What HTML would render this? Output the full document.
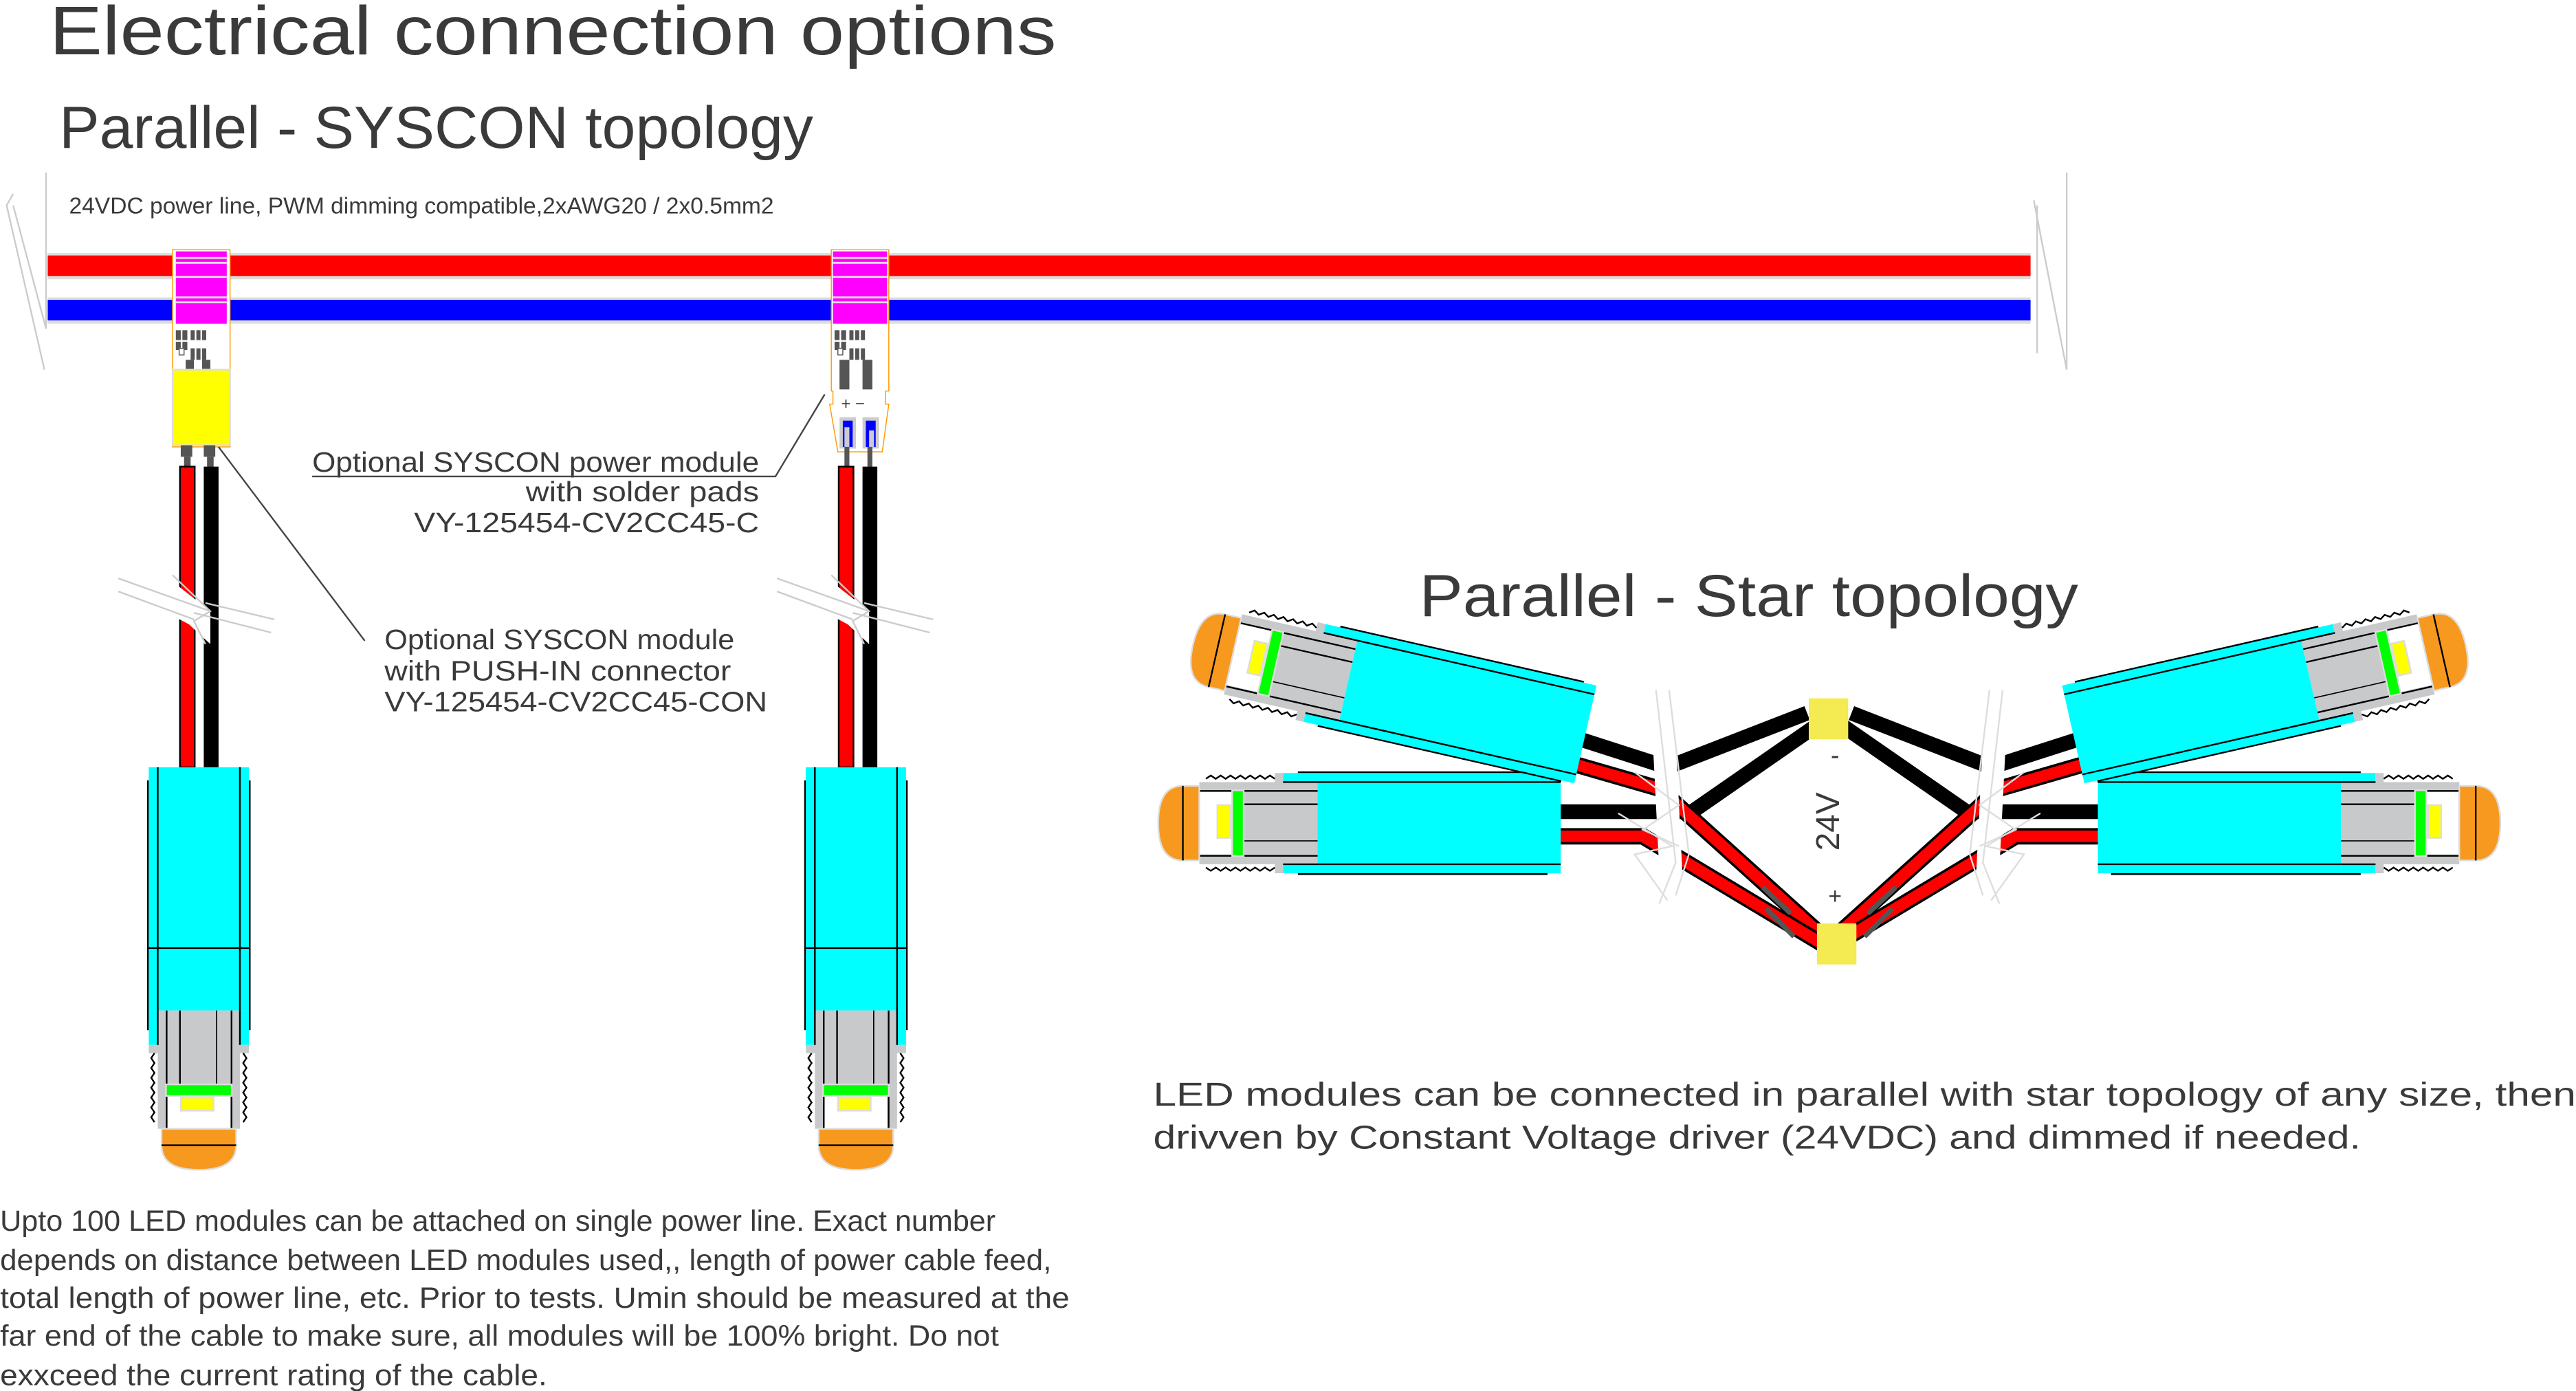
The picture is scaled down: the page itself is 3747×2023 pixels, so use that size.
<!DOCTYPE html>
<html><head><meta charset="utf-8"><style>
html,body{margin:0;padding:0;background:#fff;width:3747px;height:2023px;overflow:hidden}
svg{display:block}
text{font-family:"Liberation Sans",sans-serif;fill:#3a3a3a}
</style></head><body>
<svg width="3747" height="2023" viewBox="0 0 1568 846.6" xmlns="http://www.w3.org/2000/svg">
<defs>
<g id="mb">
 <rect x="-30.5" y="0" width="61" height="148" fill="#00ffff"/>
 <rect x="-30.5" y="148" width="5.5" height="21" fill="#00ffff"/>
 <rect x="25" y="148" width="5.5" height="21" fill="#00ffff"/>
 <rect x="-25" y="148" width="50" height="72" fill="#c8c9cb"/>
 <rect x="-30.5" y="169" width="61" height="5" fill="#c8c9cb"/>
 <line x1="-25" y1="0" x2="-25" y2="169" stroke="#000" stroke-width="1"/>
 <line x1="25" y1="0" x2="25" y2="169" stroke="#000" stroke-width="1"/>
 <line x1="-31" y1="8" x2="-31" y2="160" stroke="#000" stroke-width="1"/>
 <line x1="31" y1="8" x2="31" y2="160" stroke="#000" stroke-width="1"/>
 <line x1="-19.6" y1="148" x2="-19.6" y2="220" stroke="#000" stroke-width="1"/>
 <line x1="-11.5" y1="148" x2="-11.5" y2="194" stroke="#000" stroke-width="1"/>
 <line x1="10.8" y1="148" x2="10.8" y2="194" stroke="#000" stroke-width="0.7"/>
 <line x1="19.9" y1="148" x2="19.9" y2="220" stroke="#000" stroke-width="1"/>
 <polyline points="-27,174 -29,177 -27,180 -29,183 -27,186 -29,189 -27,192 -29,195 -27,198 -29,201 -27,204 -29,207 -27,210 -29,213 -27,216" fill="none" stroke="#000" stroke-width="1"/>
 <polyline points="27,174 29,177 27,180 29,183 27,186 29,189 27,192 29,195 27,198 29,201 27,204 29,207 27,210 29,213 27,216" fill="none" stroke="#000" stroke-width="1"/>
 <rect x="-19" y="200" width="38" height="20" fill="#fff"/>
 <rect x="-20" y="193" width="40" height="7" fill="#00ff00" stroke="#ddd" stroke-width="1"/>
 <rect x="-11" y="201" width="20" height="8" fill="#ffff00" stroke="#ddd" stroke-width="1"/>
 <path d="M-22.7,220 H22.7 V230 Q22.7,245 0,245 Q-22.7,245 -22.7,230 Z" fill="#f7991f" stroke="#ddd" stroke-width="1"/>
 <line x1="-22.7" y1="230" x2="22.7" y2="230" stroke="#000" stroke-width="1"/>
</g>
<g id="m">
 <use href="#mb"/>
 <line x1="-30.5" y1="110" x2="30.5" y2="110" stroke="#000" stroke-width="1"/>
</g>
<g id="chips">
 <rect x="2" y="201" width="3" height="6" fill="#555"/><rect x="6" y="201" width="3" height="6" fill="#555"/>
 <rect x="2" y="208" width="3" height="5" fill="#555"/><rect x="6" y="208" width="3" height="5" fill="#555"/>
 <rect x="11" y="201" width="2.5" height="6" fill="#555"/><rect x="14.5" y="201" width="2.5" height="6" fill="#555"/><rect x="18" y="201" width="2.5" height="6" fill="#555"/>
 <rect x="4" y="212" width="3" height="4" fill="#fff" stroke="#555" stroke-width="0.6"/>
 <rect x="11" y="212" width="2.5" height="7" fill="#555"/><rect x="14.5" y="212" width="2.5" height="7" fill="#555"/><rect x="18" y="212" width="2.5" height="7" fill="#555"/>
</g>
</defs>

<text x="30" y="33" font-size="42" textLength="613" lengthAdjust="spacingAndGlyphs">Electrical connection options</text>
<text x="36" y="90" font-size="36" textLength="459" lengthAdjust="spacingAndGlyphs">Parallel - SYSCON topology</text>
<text x="864" y="375" font-size="36" textLength="401" lengthAdjust="spacingAndGlyphs">Parallel - Star topology</text>
<text x="42" y="130" font-size="14" textLength="429" lengthAdjust="spacingAndGlyphs">24VDC power line, PWM dimming compatible,2xAWG20 / 2x0.5mm2</text>

<rect x="29" y="154" width="1207" height="16" fill="#ddd"/>
<rect x="29" y="155.5" width="1207" height="12.5" fill="#ff0000"/>
<rect x="29" y="181" width="1207" height="16" fill="#ddd"/>
<rect x="29" y="182.5" width="1207" height="12.5" fill="#0000ff"/>
<polyline points="8,118 4,125 27,225" fill="none" stroke="#ccc" stroke-width="1"/>
<polyline points="28,105 28,200 8,125" fill="none" stroke="#ccc" stroke-width="1"/>
<polyline points="1238,122 1258,225 1258,105" fill="none" stroke="#ccc" stroke-width="1"/>
<polyline points="1240,125 1240,215" fill="none" stroke="#ccc" stroke-width="1"/>

<rect x="105" y="152" width="35" height="120" fill="#fff" stroke="#f90" stroke-width="0.6"/>
<rect x="107" y="153" width="31" height="44" fill="#ff00ff"/>
<g stroke="#ddd" stroke-width="1.2"><line x1="107" y1="157" x2="138" y2="157"/><line x1="107" y1="160" x2="138" y2="160"/><line x1="107" y1="181" x2="138" y2="181"/><line x1="107" y1="184" x2="138" y2="184"/><line x1="107" y1="168.5" x2="138" y2="168.5"/></g>
<use href="#chips" x="105" y="0"/>
<rect x="113" y="219" width="5" height="6" fill="#555"/><rect x="123" y="219" width="5" height="6" fill="#555"/>
<rect x="105" y="225" width="35" height="46" fill="#ffff00" stroke="#ddd" stroke-width="1"/>
<rect x="110" y="271" width="7" height="7" fill="#555"/><rect x="124" y="271" width="7" height="7" fill="#555"/>
<rect x="112" y="278" width="4" height="7" fill="#555"/><rect x="126" y="278" width="4" height="7" fill="#555"/>
<rect x="109.5" y="284" width="9" height="183" fill="#ff0000" stroke="#000" stroke-width="1"/>
<rect x="124" y="284" width="9" height="183" fill="#000"/>
<polygon points="100,350 128,372 128,392 115,380 100,372" fill="#fff"/>
<g stroke="#ccc" stroke-width="1" fill="none"><line x1="72" y1="352" x2="128" y2="372"/><line x1="72" y1="360" x2="118" y2="377"/><polyline points="105,350 128,372 118,378 125,392"/><line x1="118" y1="373" x2="165" y2="385"/><line x1="125" y1="367" x2="167" y2="377"/></g>
<use href="#m" transform="translate(121,467)"/>

<path d="M506,152 H541 V238 H539 V246 H541 L537,275 H510 L505,246 H507 V238 H506 Z" fill="#fff" stroke="#f90" stroke-width="0.6"/>
<rect x="507" y="153" width="33" height="44" fill="#ff00ff"/>
<g stroke="#ddd" stroke-width="1.2"><line x1="507" y1="157" x2="540" y2="157"/><line x1="507" y1="160" x2="540" y2="160"/><line x1="507" y1="181" x2="540" y2="181"/><line x1="507" y1="184" x2="540" y2="184"/><line x1="507" y1="168.5" x2="540" y2="168.5"/></g>
<use href="#chips" x="506" y="0"/>
<rect x="511" y="219" width="6" height="18" fill="#555"/><rect x="525" y="219" width="6" height="18" fill="#555"/>
<text x="512" y="249" font-size="10" fill="#000">+ −</text>
<rect x="511" y="254" width="10" height="19" fill="#ccc"/><rect x="525" y="254" width="10" height="19" fill="#ccc"/>
<rect x="513" y="256" width="6" height="16" fill="#0000ff"/><rect x="527" y="256" width="6" height="16" fill="#0000ff"/>
<rect x="514" y="260" width="3" height="12" fill="#ccc"/><rect x="529" y="262" width="3" height="10" fill="#ccc"/>
<rect x="514" y="272" width="3" height="13" fill="#555"/><rect x="528" y="272" width="3" height="13" fill="#555"/>
<rect x="510.5" y="284" width="9" height="183" fill="#ff0000" stroke="#000" stroke-width="1"/>
<rect x="525" y="284" width="9" height="183" fill="#000"/>
<polygon points="501,350 529,372 529,392 516,380 501,372" fill="#fff"/>
<g stroke="#ccc" stroke-width="1" fill="none"><line x1="473" y1="352" x2="529" y2="372"/><line x1="473" y1="360" x2="519" y2="377"/><polyline points="506,350 529,372 519,378 526,392"/><line x1="519" y1="373" x2="566" y2="385"/><line x1="526" y1="367" x2="568" y2="377"/></g>
<use href="#m" transform="translate(521,467)"/>

<text x="190" y="287" font-size="17" textLength="272" lengthAdjust="spacingAndGlyphs">Optional SYSCON power module</text>
<polyline points="190,290 472,290 502,240" fill="none" stroke="#444" stroke-width="1"/>
<text x="320" y="305" font-size="17" textLength="142" lengthAdjust="spacingAndGlyphs">with solder pads</text>
<text x="252" y="324" font-size="17" textLength="210" lengthAdjust="spacingAndGlyphs">VY-125454-CV2CC45-C</text>
<text x="234" y="395" font-size="17" textLength="213" lengthAdjust="spacingAndGlyphs">Optional SYSCON module</text>
<text x="234" y="414" font-size="17" textLength="211" lengthAdjust="spacingAndGlyphs">with PUSH-IN connector</text>
<text x="234" y="433" font-size="17" textLength="233" lengthAdjust="spacingAndGlyphs">VY-125454-CV2CC45-CON</text>
<line x1="222" y1="390" x2="133" y2="272" stroke="#444" stroke-width="1"/>

<g font-size="18">
<text x="0" y="749" textLength="606" lengthAdjust="spacingAndGlyphs">Upto 100 LED modules can be attached on single power line. Exact number</text>
<text x="0" y="773" textLength="640" lengthAdjust="spacingAndGlyphs">depends on distance between LED modules used,, length of power cable feed,</text>
<text x="0" y="796" textLength="651" lengthAdjust="spacingAndGlyphs">total length of power line, etc. Prior to tests. Umin should be measured at the</text>
<text x="0" y="819" textLength="608" lengthAdjust="spacingAndGlyphs">far end of the cable to make sure, all modules will be 100% bright. Do not</text>
<text x="0" y="843" textLength="333" lengthAdjust="spacingAndGlyphs">exxceed the current rating of the cable.</text>
</g>

<g id="half">
 <g stroke-linejoin="miter" fill="none">
  <polyline points="962,450 1015,467 1100,434" stroke="#000" stroke-width="9"/>
  <polyline points="950,494 1030,494 1105,442" stroke="#000" stroke-width="9"/>
  <polyline points="958,465 1010,480 1112,572" stroke="#000" stroke-width="10"/>
  <polyline points="958,465 1010,480 1112,572" stroke="#ff0000" stroke-width="7"/>
  <polyline points="950,509 1000,509 1110,575" stroke="#000" stroke-width="10"/>
  <polyline points="950,509 1000,509 1110,575" stroke="#ff0000" stroke-width="7"/>
  <line x1="1073" y1="540" x2="1090" y2="556" stroke="#555" stroke-width="3"/>
  <line x1="1075" y1="553" x2="1092" y2="570" stroke="#555" stroke-width="3"/>
 </g>
 <polygon points="1006,450 1020,450 1024,530 1010,530" fill="#fff"/>
 <g stroke="#ddd" stroke-width="1" fill="none">
  <polyline points="1008,420 1020,525 1010,550"/>
  <polyline points="1016,420 1028,520 1020,545"/>
  <polyline points="995,470 1022,490 1000,505 1022,515"/>
  <polyline points="985,495 1018,515 995,520 1015,548"/>
 </g>
 <use href="#mb" transform="translate(950,501) rotate(90)"/>
 <use href="#mb" transform="translate(965,447) rotate(102.8)"/>
</g>
<use href="#half" transform="translate(2227,0) scale(-1,1)"/>
<rect x="1101" y="425" width="24" height="25" fill="#f4ea52"/>
<rect x="1106" y="562" width="24" height="25" fill="#f4ea52"/>
<text x="1113" y="500" font-size="20" text-anchor="middle" transform="rotate(-90 1113 500)" dominant-baseline="central" fill="#555">24V</text>
<text x="1117" y="465" font-size="16" text-anchor="middle" fill="#555">-</text>
<text x="1117" y="550" font-size="14" text-anchor="middle" fill="#555">+</text>

<g font-size="20">
<text x="702" y="673" textLength="866" lengthAdjust="spacingAndGlyphs">LED modules can be connected in parallel with star topology of any size, then</text>
<text x="702" y="699" textLength="735" lengthAdjust="spacingAndGlyphs">drivven by Constant Voltage driver (24VDC) and dimmed if needed.</text>
</g>
</svg>
</body></html>
